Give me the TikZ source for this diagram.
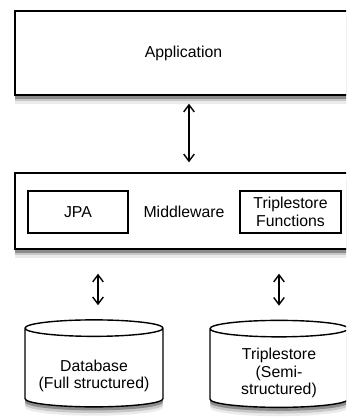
\documentclass[tikz,border=0pt]{standalone}
\usepackage{fontspec}
\setmainfont{Liberation Sans}
\usetikzlibrary{shapes.geometric,shadows,arrows.meta}

\tikzset{
  softshadow/.style={
    drop shadow={shadow xshift=0pt,shadow yshift=-5pt,fill=black,opacity=0.08},
    drop shadow={shadow xshift=0pt,shadow yshift=-3.5pt,fill=black,opacity=0.15},
    drop shadow={shadow xshift=0pt,shadow yshift=-2pt,fill=black,opacity=0.3}}
}

\begin{document}
\begin{tikzpicture}[x=0.02cm,y=-0.02cm,font=\fontsize{9}{10}\selectfont,
  layer/.style={draw,thick,fill=white,softshadow},
  part/.style={draw,thick,minimum width=2cm,minimum height=0.84cm,align=center,inner sep=1pt},
  store/.style={cylinder,shape border rotate=90,draw,thick,fill=white,aspect=0.125,
    minimum width=2.76cm,minimum height=1.74cm,softshadow},
  link/.style={thick,{Straight Barb[length=4pt,width=6pt]}-{Straight Barb[length=4pt,width=6pt]}}]
\useasboundingbox (0,0) rectangle (346,418);
\clip (0,0) rectangle (346,418);

% layers
\node[layer,minimum width=6.74cm,minimum height=1.68cm] (app) at (183.5,53) {Application};
\node[layer,minimum width=6.74cm,minimum height=1.52cm] (mw) at (183.5,211) {};
\node (mwtext) at (184,212) {Middleware};
\node[part] (jpa) at (78,212) {JPA};
\node[part,minimum width=2.02cm] (tsf) at (290.5,212) {Triplestore\\Functions};

% stores (empty rule keeps the end ellipses round)
\node[store] (db) at (94,369.5) {\rule{2.4cm}{0pt}};
\node[align=center] (dbtext) at (94,376) {Database\\(Full structured)};
\node[store] (ts) at (279,370) {\rule{2.4cm}{0pt}};
\node[align=center] (tstext) at (279,373) {Triplestore\\(Semi-\\structured)};

\draw[link] ([xshift=0.11cm,yshift=-0.16cm]app.south) -- ([xshift=0.11cm,yshift=0.2cm]mw.north);
\draw[link] ([yshift=-0.48cm]mw.south -| ts.north) -- ([yshift=0.28cm]ts.north);
\draw[link] ([xshift=0.08cm,yshift=-0.48cm]mw.south -| db.north) -- ([xshift=0.08cm,yshift=0.28cm]db.north);

\end{tikzpicture}
\end{document}
